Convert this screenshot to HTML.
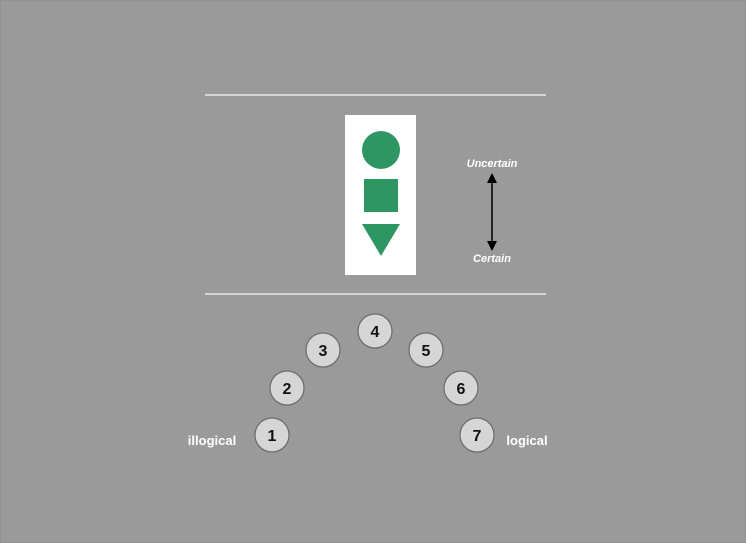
<!DOCTYPE html>
<html><head><meta charset="utf-8"><style>
body{margin:0;background:#999;}
svg{display:block;font-family:"Liberation Sans",sans-serif;}
</style></head><body>
<svg width="746" height="543">
<rect x="0" y="0" width="746" height="543" fill="#9a9a9a" stroke="#8a8a8a"/>
<line x1="205" y1="95" x2="546" y2="95" stroke="#d4d4d4" stroke-width="2"/>
<line x1="205" y1="294" x2="546" y2="294" stroke="#d4d4d4" stroke-width="2"/>
<rect x="345" y="115" width="71" height="160" fill="#fff"/>
<circle cx="381" cy="150" r="19" fill="#2e9663"/>
<rect x="364" y="179" width="34" height="33" fill="#2e9663"/>
<polygon points="362,224 400,224 381,256" fill="#2e9663"/>
<text x="492" y="167" text-anchor="middle" fill="#fff" font-size="11" font-weight="bold" font-style="italic">Uncertain</text>
<text x="492" y="262" text-anchor="middle" fill="#fff" font-size="11" font-weight="bold" font-style="italic">Certain</text>
<line x1="492" y1="180" x2="492" y2="244" stroke="#000" stroke-width="1.5"/>
<polygon points="492,173 487,183 497,183" fill="#000"/>
<polygon points="492,251 487,241 497,241" fill="#000"/>
<g id="scale"></g>
<text x="212" y="445" text-anchor="middle" fill="#fff" font-size="13" font-weight="bold">illogical</text>
<text x="527" y="445" text-anchor="middle" fill="#fff" font-size="13" font-weight="bold">logical</text>
</svg>
<script>
const labels=["1","2","3","4","5","6","7"];
const cxs=[272,287,323,375,426,461,477];
const cys=[435,388,350,331,350,388,435];
const g=document.getElementById('scale');
const ns='http://www.w3.org/2000/svg';
labels.forEach((l,i)=>{
  const c=document.createElementNS(ns,'circle');
  c.setAttribute('cx',cxs[i]);c.setAttribute('cy',cys[i]);c.setAttribute('r',17);
  c.setAttribute('fill','#d6d6d6');c.setAttribute('stroke','#6a6a6a');c.setAttribute('stroke-width','1.2');
  
  
  g.appendChild(c);
  const t=document.createElementNS(ns,'text');
  t.setAttribute('x',cxs[i]);t.setAttribute('y',cys[i]+6);t.setAttribute('text-anchor','middle');
  t.setAttribute('font-size','16');t.setAttribute('font-weight','bold');t.setAttribute('fill','#111');
  t.textContent=l;
  
  
  g.appendChild(t);
});
</script>
</body></html>
